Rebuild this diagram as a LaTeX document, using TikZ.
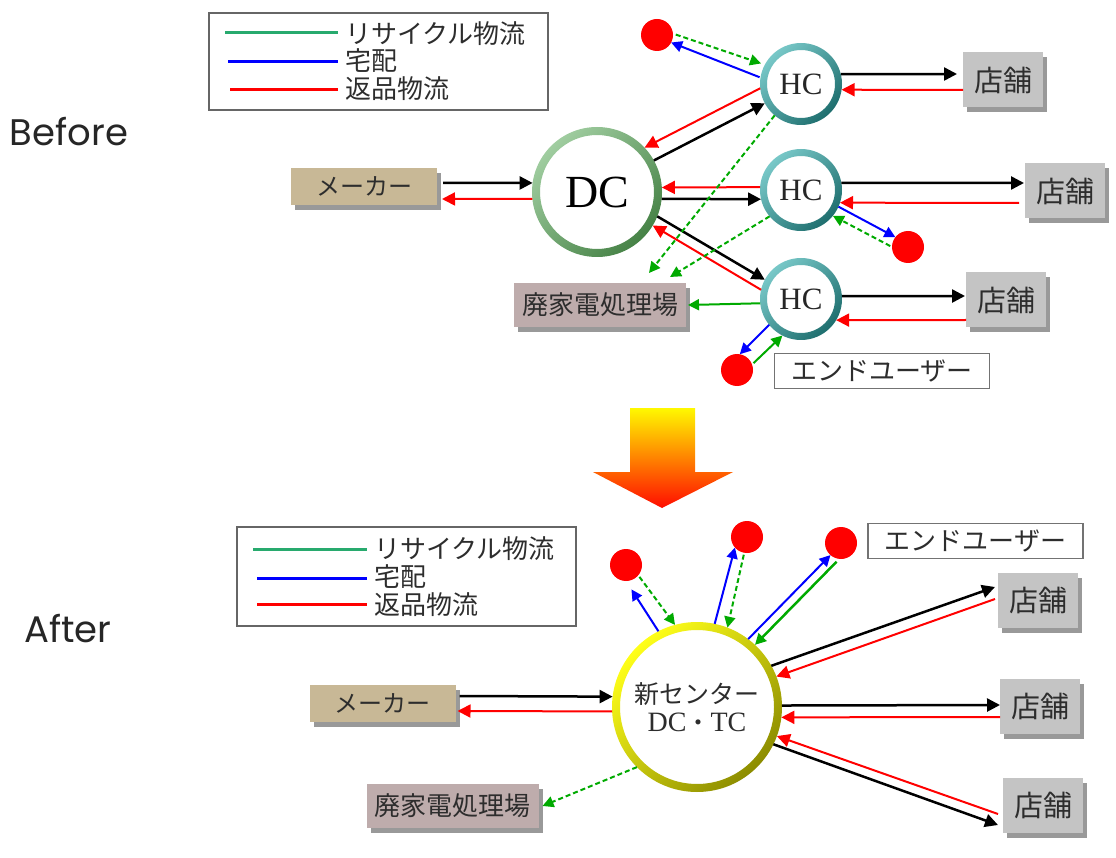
\documentclass[tikz,border=0pt]{standalone}
\usepackage{fontspec}
\usetikzlibrary{arrows.meta,shadows,calc}
\newfontfamily\jp{Noto Sans CJK JP}
\newfontfamily\sr{Liberation Serif}
\newfontfamily\geo{Poppins}
\newcommand\myfs[1]{\fontsize{#1}{#1}\selectfont}
\definecolor{rd}{RGB}{255,0,0}
\definecolor{gr}{RGB}{0,170,0}
\definecolor{bl}{RGB}{0,0,255}
\definecolor{lgr}{RGB}{40,170,110}
\definecolor{txt}{RGB}{45,45,45}
\definecolor{storefill}{RGB}{196,196,196}
\definecolor{makerfill}{RGB}{200,184,150}
\definecolor{haifill}{RGB}{190,172,172}
\definecolor{dclight}{RGB}{160,205,160}
\definecolor{dcdark}{RGB}{70,130,70}
\definecolor{hclight}{RGB}{120,200,200}
\definecolor{hcdark}{RGB}{30,110,110}
\tikzset{
  flow/.style={line width=2pt,-{Triangle[length=13pt,width=13pt]}},
  kflow/.style={flow,black,line width=2.5pt},
  rflow/.style={flow,rd},
  bflow/.style={flow,bl,-{Triangle[length=11pt,width=11pt]}},
  gflow/.style={flow,gr,-{Triangle[length=11pt,width=11pt]}},
  gdash/.style={gflow,dash pattern=on 5pt off 3pt},
  box/.style={rectangle,inner sep=0pt,outer sep=0pt,text=txt,
    drop shadow={shadow xshift=4pt,shadow yshift=-5pt,opacity=0.4,fill=black}},
  store/.style={box,fill=storefill,minimum width=80pt,minimum height=55pt,font=\jp\myfs{29}},
  maker/.style={box,fill=makerfill,minimum width=146pt,minimum height=37pt,font=\jp\myfs{24}},
  hai/.style={box,fill=haifill,minimum width=172pt,minimum height=44pt,font=\jp\myfs{26}},
  enduser/.style={rectangle,draw=black!55,line width=1.5pt,fill=white,inner sep=0pt,
    minimum width=215pt,minimum height=35pt,font=\jp\myfs{26},text=txt},
  legbox/.style={rectangle,draw=black!60,line width=1.5pt,inner sep=0pt,minimum width=339pt},
  legtxt/.style={anchor=west,inner sep=0pt,font=\jp\myfs{26},text=txt},
  dot/.style={circle,fill=rd,minimum size=32pt,inner sep=0pt,outer sep=0pt},
  hcnode/.style={circle,fill=white,minimum size=82pt,inner sep=0pt,outer sep=0pt,font=\sr\myfs{31},text=black!85},
  dcnode/.style={circle,fill=white,minimum size=130pt,inner sep=0pt,outer sep=0pt,font=\sr\myfs{46},text=black},
  ncnode/.style={circle,fill=white,minimum size=170pt,inner sep=0pt,outer sep=0pt,text=txt,align=center},
  ringhc/.style={even odd rule,top color=hclight,bottom color=hcdark,shading angle=45},
  ringdc/.style={even odd rule,top color=dclight,bottom color=dcdark,shading angle=45},
  ringnc/.style={even odd rule,top color=yellow!90!white,bottom color=yellow!55!black,shading angle=45},
  lbl/.style={inner sep=0pt,font=\geo\myfs{37},text=black!85},
}
\begin{document}
\begin{tikzpicture}[x=1pt,y=-1pt]
\useasboundingbox (0,0) rectangle (1116,858);

% ---------------- Before ----------------
\node[lbl] (before) at (69,132) {Before};

\node[legbox,minimum height=97pt] (legA) at (378.5,61.5) {};
\draw[lgr,line width=3pt] (225,33) -- (338,33);
\draw[bl,line width=3pt] (228,62) -- (338,62);
\draw[rd,line width=3pt] (230,90) -- (338,90);
\node[legtxt] (lA1) at (345,34) {リサイクル物流};
\node[legtxt] (lA2) at (345,61) {宅配};
\node[legtxt] (lA3) at (345,89) {返品物流};

\node[maker] (makerB) at (364,186.5) {メーカー};
\node[hai] (haiB) at (600,305) {廃家電処理場};
\node[enduser] (endB) at (882,371) {エンドユーザー};
\node[store] (stB1) at (1003,80) {店舗};
\node[store] (stB2) at (1065,191) {店舗};
\node[store] (stB3) at (1006,300) {店舗};

\node[dcnode] (dc) at (597,192) {DC};
\shade[ringdc] (dc.center) circle[radius=65pt] (dc.center) circle[radius=57pt];
\node[hcnode] (hc1) at (801,84) {HC};
\shade[ringhc] (hc1.center) circle[radius=41pt] (hc1.center) circle[radius=34pt];
\node[hcnode] (hc2) at (801,190) {HC};
\shade[ringhc] (hc2.center) circle[radius=41pt] (hc2.center) circle[radius=34pt];
\node[hcnode] (hc3) at (801,299) {HC};
\shade[ringhc] (hc3.center) circle[radius=41pt] (hc3.center) circle[radius=34pt];

\node[dot] (dotB1) at (657,35) {};
\node[dot] (dotB2) at (908,247) {};
\node[dot] (dotB3) at (737,370) {};

% maker <-> DC
\draw[kflow] ([xshift=6pt,yshift=3.5pt]makerB.east) -- (dc.172);
\draw[rflow] (dc.186) -- ([xshift=5pt,yshift=-12.5pt]makerB.east);
% DC <-> HC
\draw[kflow] (dc.29) -- (hc1.208);
\draw[rflow] (hc1.186) -- (dc.43);
\draw[rflow] (hc2.176) -- (dc.4);
\draw[kflow] (dc.354) -- (hc2.193);
\draw[kflow] (dc.338) -- (hc3.152);
\draw[rflow] (hc3.167) -- (dc.329);
% recycling to plant
\draw[gdash] (hc1.230) -- ([xshift=49pt,yshift=10pt]haiB.north);
\draw[gdash] (hc2.220) -- ([xshift=70pt,yshift=6pt]haiB.north);
\draw[gflow] (hc3.186) -- ([xshift=2pt]haiB.east);
% HC <-> stores
\draw[kflow] (hc1.14) -- ([xshift=-6pt,yshift=6pt]stB1.west);
\draw[rflow] ([yshift=-10pt]stB1.west) -- (hc1.352);
\draw[kflow] (hc2.10) -- ([xshift=-1pt,yshift=8pt]stB2.west);
\draw[rflow] ([xshift=-6pt,yshift=-12pt]stB2.west) -- (hc2.342);
\draw[kflow] (hc3.4) -- ([xshift=-1pt,yshift=4pt]stB3.west);
\draw[rflow] ([yshift=-20pt]stB3.west) -- (hc3.329);
% end users
\draw[gdash,shorten <=3pt,shorten >=4pt] (dotB1.5) -- (hc1.152);
\draw[bflow,shorten <=1pt] (hc1.171) -- (dotB1.332);
\draw[bflow] (hc2.336) -- (dotB2.142);
\draw[gdash,shorten <=2pt] (dotB2.180) -- (hc2.321);
\draw[bflow] (hc3.219) -- (dotB3.80);
\draw[gflow,shorten <=2pt] (dotB3.20) -- (hc3.243);

% ---------------- big arrow ----------------
\shade[top color=yellow!95!orange,middle color=orange,bottom color=red!90!orange]
  (630,408) -- (695,408) -- (695,472) -- (733,472) -- (662,508) -- (593,472) -- (630,472) -- cycle;

% ---------------- After ----------------
\node[lbl] (after) at (68,629) {After};

\node[legbox,minimum height=99pt] (legB) at (406.5,576.5) {};
\draw[lgr,line width=3pt] (253,549) -- (367,549);
\draw[bl,line width=3pt] (257,578) -- (367,578);
\draw[rd,line width=3pt] (257,604) -- (367,604);
\node[legtxt] (lB1) at (374,549) {リサイクル物流};
\node[legtxt] (lB2) at (374,577) {宅配};
\node[legtxt] (lB3) at (374,605) {返品物流};

\node[maker] (makerA) at (382.5,703) {メーカー};
\node[hai] (haiA) at (452.5,806) {廃家電処理場};
\node[enduser] (endA) at (975.5,541) {エンドユーザー};
\node[store] (stA1) at (1038,600) {店舗};
\node[store] (stA2) at (1040,706) {店舗};
\node[store] (stA3) at (1043,805) {店舗};

\node[ncnode] (nc) at (697,707) {{\jp\myfs{25}新センター}\\[6pt]{\sr\myfs{28}DC}{\jp\myfs{24}・}{\sr\myfs{28}TC}};
\shade[ringnc] (nc.center) circle[radius=85pt] (nc.center) circle[radius=77pt];

\node[dot] (dotA1) at (626,565) {};
\node[dot] (dotA2) at (747,537) {};
\node[dot] (dotA3) at (841,543) {};

\draw[kflow] ([xshift=4pt,yshift=7pt]makerA.east) -- (nc.173);
\draw[rflow] (nc.183) -- ([xshift=2pt,yshift=-8pt]makerA.east);
\draw[gdash] (nc.225) -- ([xshift=4pt]haiA.east);

\draw[bflow,shorten >=10pt] (nc.117) -- (dotA1.south);
\draw[gdash,shorten <=2pt] (dotA1.320) -- (nc.105);
\draw[bflow] (nc.78) -- (dotA2.221);
\draw[gdash,shorten <=2pt] (dotA2.260) -- (nc.69);
\draw[bflow] (nc.53) -- (dotA3.229);
\draw[gflow,line width=2.5pt,shorten <=4pt] (dotA3.264) -- (nc.47);

\draw[kflow] (nc.29) -- ([xshift=-3pt,yshift=13pt]stA1.west);
\draw[rflow] ([xshift=-3pt,yshift=1pt]stA1.west) -- (nc.21);
\draw[kflow] (nc.1) -- ([yshift=1pt]stA2.west);
\draw[rflow] ([yshift=-11pt]stA2.west) -- (nc.353);
\draw[rflow] ([xshift=-5pt,yshift=-9pt]stA3.west) -- (nc.340);
\draw[kflow] (nc.334) -- ([xshift=-5pt,yshift=-20pt]stA3.west);
\end{tikzpicture}
\end{document}
